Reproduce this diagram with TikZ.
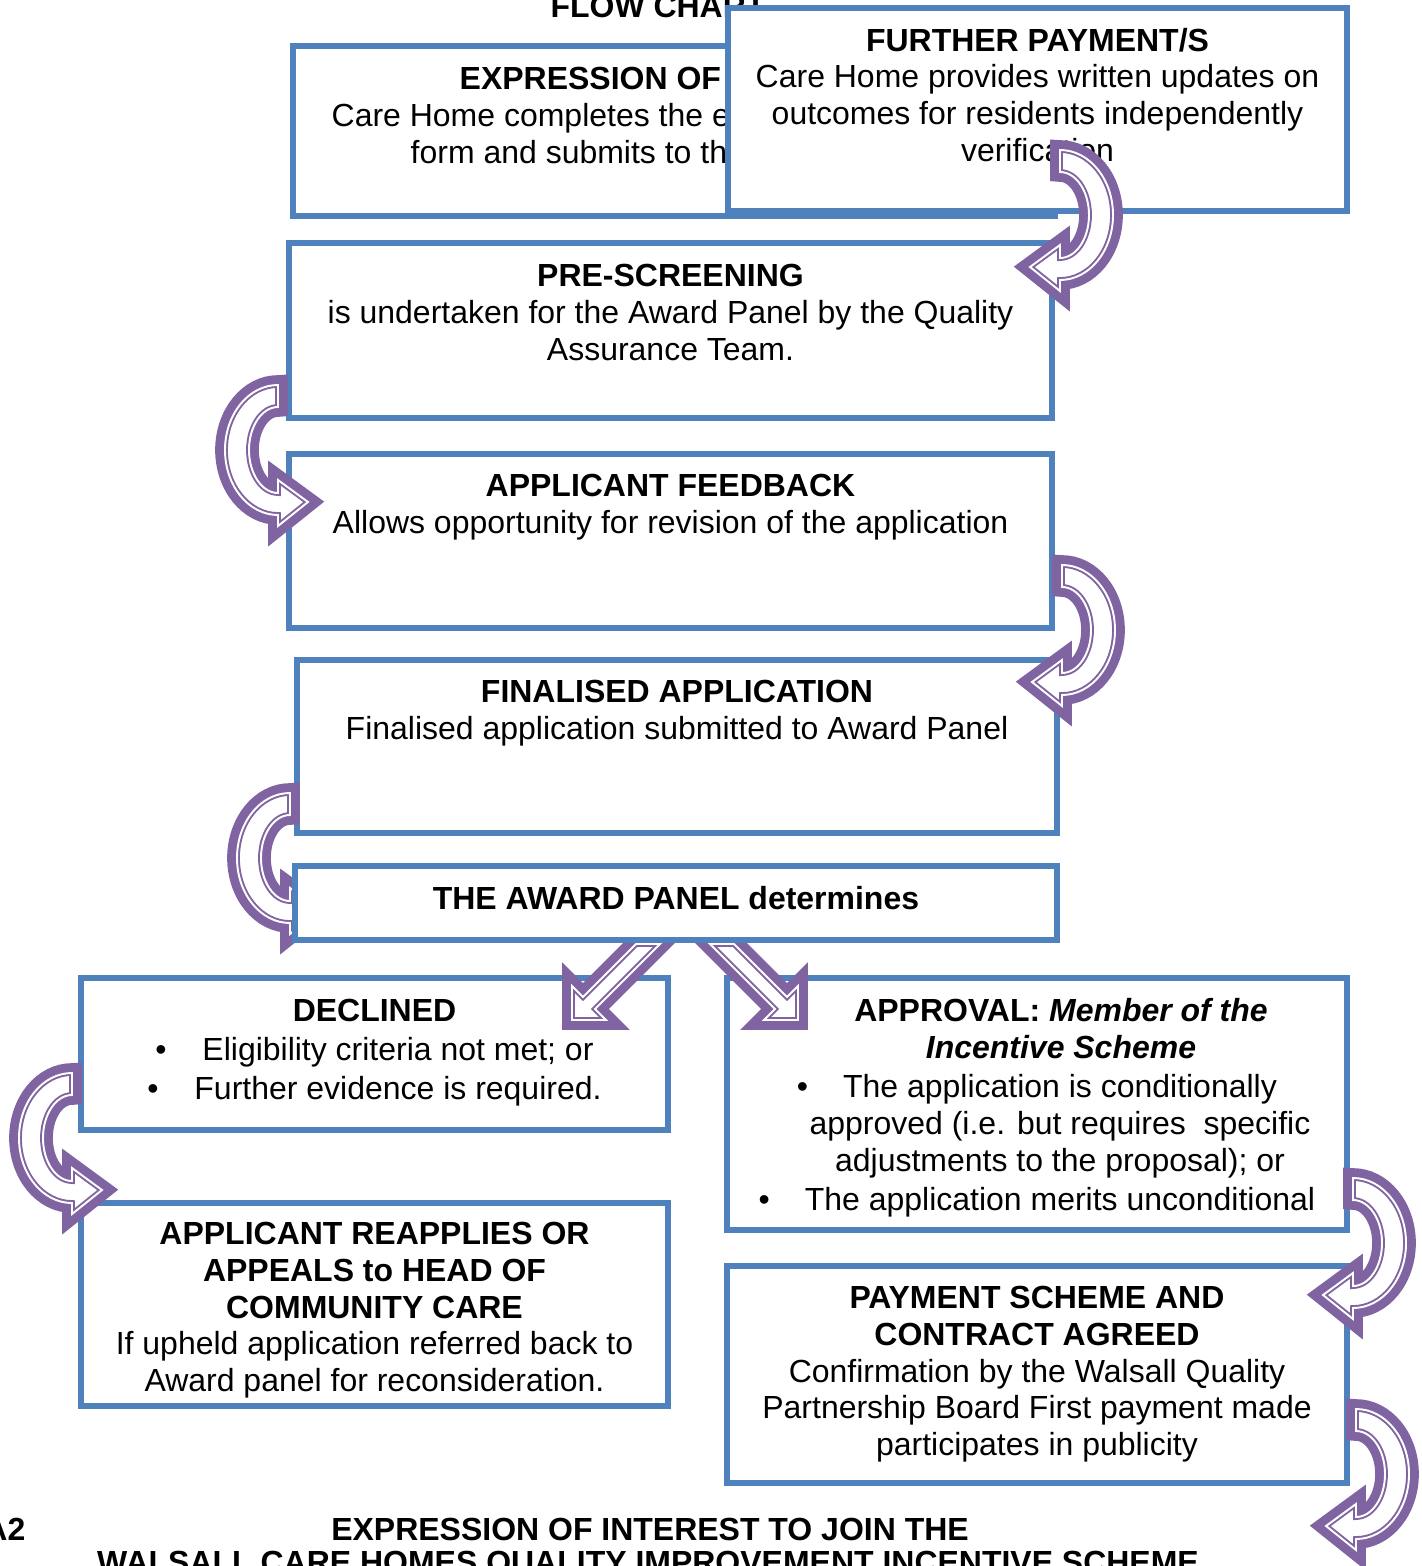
\documentclass[tikz,border=0pt]{standalone}
\usepackage{fontspec}
\setmainfont{Liberation Sans}
\usepackage{tikz}
\usetikzlibrary{positioning, fit, calc}
\definecolor{boxblue}{HTML}{4F81BD}
\definecolor{arrowpurple}{HTML}{8064A2}

% U 形箭头: 中心 x, 中心 y, 方向 (1 = 右侧, -1 = 左侧)
\newcommand{\uturnarrow}[3]{%
  \path[turnarrow] ({#1},{#2-65})
    arc[start angle=-90, end angle={-90+(#3)*180}, x radius=53, y radius=65]
    -- ({#1},{#2+76}) -- ({#1-(#3)*30},{#2+52}) -- ({#1},{#2+30}) -- ({#1},{#2+43})
    arc[start angle=90, end angle={90-(#3)*180}, x radius=29, y radius=43]
    -- cycle;}

\begin{document}
\begin{tikzpicture}[
    x=0.1mm, y=-0.1mm,
    flowbox/.style={draw=boxblue, line width=1.6pt, fill=white, inner sep=0pt},
    boxtext/.style={font=\fontsize{9.1}{10.5}\selectfont, align=center, inner sep=0pt, anchor=north},
    headtext/.style={font=\fontsize{9.1}{10.5}\selectfont\bfseries, inner sep=0pt, anchor=base},
    turnarrow/.style={fill=white,
        preaction={draw=arrowpurple, line width=5.6pt},
        postaction={draw=arrowpurple, line width=0.55pt, double=white, double distance=0.55pt}}
]
    \useasboundingbox (0,0) rectangle (1422,1566);
    \clip (0,0) rectangle (1422,1566);
    \fill[white] (0,0) rectangle (1422,1566);

    % 标题
    \node[headtext] (flowtitle) at (658,17) {FLOW CHART};

    % 第一行的两个框
    \node[flowbox, fit={(293,46) (1055,216)}] (expr) {};
    \node[headtext, anchor=base west] (exprtitle) at (459,89) {EXPRESSION OF};
    \node[boxtext, anchor=base west] (exprline1) at (331,126) {Care Home completes the e};
    \node[boxtext, anchor=base west] (exprline2) at (410,163) {form and submits to th};

    \node[flowbox, fit={(728,8) (1347,211)}] (further) {};
    \node[boxtext] (furthertext) at ([yshift=-2.2mm]further.north)
        {\textbf{FURTHER PAYMENT/S}\\Care Home provides written updates on\\outcomes for residents independently\\verification};

    % 中间的框
    \node[flowbox, fit={(289,243) (1052,418)}] (prescreen) {};
    \node[boxtext] (prescreentext) at ([yshift=-2.3mm]prescreen.north)
        {\textbf{PRE-SCREENING}\\is undertaken for the Award Panel by the Quality\\Assurance Team.};

    \node[flowbox, fit={(289,454) (1052,628)}] (feedback) {};
    \node[boxtext] (feedbacktext) at ([yshift=-2.2mm]feedback.north)
        {\textbf{APPLICANT FEEDBACK}\\Allows opportunity for revision of the application};

    \node[flowbox, fit={(297,660) (1057,833)}] (finalised) {};
    \node[boxtext] (finalisedtext) at ([yshift=-2.2mm]finalised.north)
        {\textbf{FINALISED APPLICATION}\\Finalised application submitted to Award Panel};

    % 决定: 拒绝 / 批准
    \node[flowbox, fit={(81,978) (668,1130)}] (declined) {};
    \node[boxtext] (declinedtitle) at ([yshift=-2.3mm]declined.north) {\textbf{DECLINED}};
    \node[boxtext] (declinedlist) at (398,1037)
        {\llap{\textbullet\hspace{3.6mm}}Eligibility criteria not met; or\\[0.2mm]
         \llap{\textbullet\hspace{3.6mm}}Further evidence is required.};

    \node[flowbox, fit={(727,978) (1347,1230)}] (approval) {};
    \node[boxtext] (approvaltitle) at (1061,998)
        {\textbf{APPROVAL: \textit{Member of the}}\\\textbf{\textit{Incentive Scheme}}};
    \node[boxtext] (approvallist) at (1060,1074)
        {\llap{\textbullet\hspace{3.5mm}}The application is conditionally\\
         approved (i.e. but requires~ specific\\
         adjustments to the proposal); or\\[0.2mm]
         \llap{\textbullet\hspace{3.5mm}}The application merits unconditional};

    % 斜向箭头
    \path[turnarrow] (636,944) -- (583,997) -- (572,986) -- (572,1020)
        -- (606,1020) -- (595,1009) -- (660,944) -- cycle;
    \path[turnarrow] (734,944) -- (787,997) -- (798,986) -- (798,1020)
        -- (764,1020) -- (775,1009) -- (710,944) -- cycle;

    \uturnarrow{290}{858}{-1}

    \node[flowbox, fit={(295,866) (1057,940)}] (panel) {};
    \node[boxtext] (paneltext) at ([yshift=-2.2mm]panel.north) {\textbf{THE AWARD PANEL determines}};

    % 下面的两个框
    \node[flowbox, fit={(81,1203) (668,1406)}] (reapply) {};
    \node[boxtext] (reapplytext) at ([yshift=-2.1mm]reapply.north)
        {\textbf{APPLICANT REAPPLIES OR}\\\textbf{APPEALS to HEAD OF}\\\textbf{COMMUNITY CARE}\\
         If upheld application referred back to\\Award panel for reconsideration.};

    \node[flowbox, fit={(727,1266) (1347,1483)}] (payment) {};
    \node[boxtext] (paymenttext) at ([yshift=-2.2mm]payment.north)
        {\textbf{PAYMENT SCHEME AND}\\\textbf{CONTRACT AGREED}\\Confirmation by the Walsall Quality\\
         Partnership Board First payment made\\participates in publicity};

    % U 形箭头
    \uturnarrow{1060}{215}{1}
    \uturnarrow{278}{450}{-1}
    \uturnarrow{1062}{630}{1}
    \uturnarrow{72}{1138}{-1}
    \uturnarrow{1353}{1243}{1}
    \uturnarrow{1356}{1474}{1}

    % 底部文字
    \node[headtext, anchor=base east] (appendixmark) at (26,1540) {A2};
    \node[headtext] (bottomline1) at (650,1540) {EXPRESSION OF INTEREST TO JOIN THE};
    \node[headtext] (bottomline2) at (648,1573) {WALSALL CARE HOMES QUALITY IMPROVEMENT INCENTIVE SCHEME};
\end{tikzpicture}
\end{document}
